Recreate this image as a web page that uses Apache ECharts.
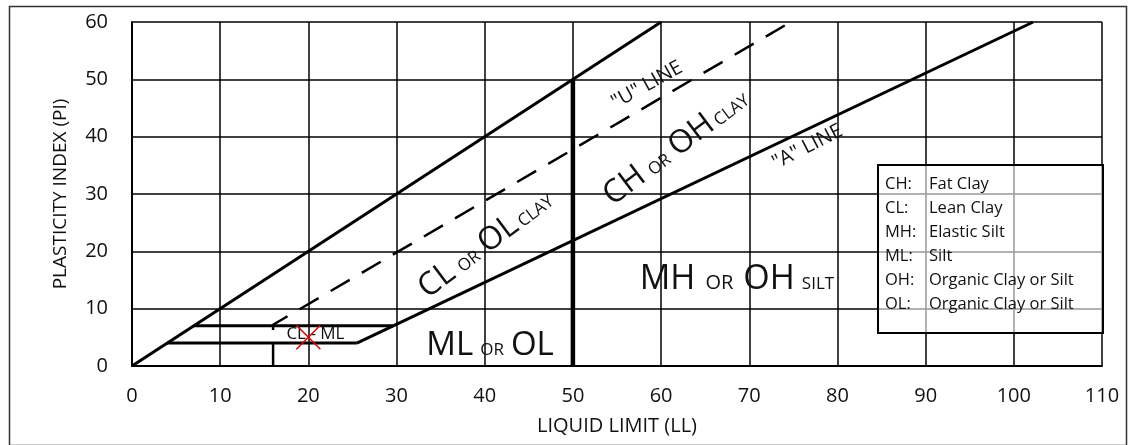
<!DOCTYPE html>
<html>
<head>
<meta charset="utf-8">
<script src="https://cdn.jsdelivr.net/npm/echarts@6/dist/echarts.min.js"></script>
<style>
html, body { margin: 0; padding: 0; background: #fff; }
#chart { width: 1129px; height: 445px; }
</style>
</head>
<body>
<div id="chart"></div>
<script>
const FONT = 'Open Sans';
const INK = '#111';

// chart boundary lines, points are [LL, PI]
const upperLine = [[0, 0], [60, 60]];
const aLine = [[25.5, 4], [102.2, 60]];
const uLine = [[16, 0], [16, 7.2], [74.7, 60]];
const clmlTop = [[7, 7], [29.6, 7]];
const clmlBottom = [[4, 4], [25.5, 4]];
const ll50Line = [[50, 0], [50, 50]];
const samplePoint = [[20, 5]];

// zone annotations
const zoneText = [
    '{d|ML}{s|OR}{d|OL}',
    '{m|MH}{t|OR}{m|OH}{u|SILT}',
    '{b|CL}{s|OR}{b|OL}{c|CLAY}',
    '{b|CH}{s|OR}{b|OH}{c|CLAY}',
    '"U" LINE',
    '"A" LINE',
    'CL - ML'
];
const zonePos = [[40.6, 3.6], [68.6, 15.2], [40.1, 21.3], [61.7, 38.2], [58.4, 49], [76.6, 38.2], [20.8, 5.6]];
const zoneAngle = [0, 0, 37, 37, 29, 27, 0];
const zoneSize = [14, 16, 14, 14, 20, 20, 17];

const legendCodes = ['CH:', 'CL:', 'MH:', 'ML:', 'OH:', 'OL:'];
const legendNames = ['Fat Clay', 'Lean Clay', 'Elastic Silt', 'Silt', 'Organic Clay or Silt', 'Organic Clay or Silt'];

function lineSeries(data, width, type) {
    return {
        type: 'line',
        data: data,
        showSymbol: false,
        silent: true,
        z: 3,
        lineStyle: {color: '#000', width: width, type: type || 'solid', cap: 'butt'}
    };
}

function richStyle(size, pad) {
    return {fontSize: size, color: INK, fontFamily: FONT, verticalAlign: 'bottom',
        textBorderWidth: 0, textBorderColor: 'transparent', padding: pad};
}

const chart = echarts.init(document.getElementById('chart'), null, {renderer: 'canvas'});

const legendItems = [];
legendCodes.forEach((c, i) => {
    legendItems.push({type: 'text', left: 885, top: 176 + i * 24, z: 30,
        style: {text: c, font: '16.5px "' + FONT + '"', fill: INK}});
    legendItems.push({type: 'text', left: 929, top: 176 + i * 24, z: 30,
        style: {text: legendNames[i], font: '16.5px "' + FONT + '"', fill: INK}});
});

const option = {
    animation: false,
    backgroundColor: '#fff',
    textStyle: {fontFamily: FONT},
    grid: {left: 132, right: 27, top: 22, bottom: 79},
    xAxis: {
        type: 'value', min: 0, max: 110, interval: 10,
        name: 'LIQUID LIMIT (LL)', nameLocation: 'middle', nameGap: 50,
        nameTextStyle: {fontSize: 20, color: INK, fontFamily: FONT},
        axisLine: {lineStyle: {color: '#000', width: 2}},
        axisTick: {show: false},
        axisLabel: {fontSize: 20, color: INK, margin: 20, fontFamily: FONT},
        splitLine: {lineStyle: {color: '#000', width: 1.5}}
    },
    yAxis: {
        type: 'value', min: 0, max: 60, interval: 10,
        name: 'PLASTICITY INDEX (PI)', nameLocation: 'middle', nameGap: 62,
        nameTextStyle: {fontSize: 19, color: INK, fontFamily: FONT},
        axisLine: {show: true, lineStyle: {color: '#000', width: 2}},
        axisTick: {show: false},
        axisLabel: {fontSize: 20, color: INK, margin: 24, fontFamily: FONT},
        splitLine: {lineStyle: {color: '#000', width: 1.5}}
    },
    graphic: [
        {type: 'rect', left: 7, top: 4, z: 20,
            shape: {width: 1117, height: 439},
            style: {fill: 'none', stroke: '#333', lineWidth: 1.5}},
        {type: 'rect', left: 877, top: 164, z: 20,
            shape: {width: 225, height: 168},
            style: {fill: 'rgba(255,255,255,0.6)', stroke: '#000', lineWidth: 2}}
    ].concat(legendItems),
    series: [
        lineSeries(upperLine, 3),
        lineSeries(aLine, 3),
        lineSeries(uLine, 2.5, [22, 14]),
        lineSeries(clmlTop, 3),
        lineSeries(clmlBottom, 3),
        lineSeries(ll50Line, 4.5),
        {
            type: 'scatter', data: samplePoint, silent: true, z: 5,
            symbol: 'path://M0,0L10,10M10,0L0,10', symbolSize: 24,
            itemStyle: {color: 'none', borderColor: '#e00000', borderWidth: 1.5, opacity: 1}
        },
        {
            type: 'scatter', silent: true, z: 4, symbolSize: 0,
            itemStyle: {opacity: 1},
            data: zonePos.map((p, i) => ({
                value: p,
                label: {formatter: zoneText[i], rotate: zoneAngle[i], fontSize: zoneSize[i]}
            })),
            label: {
                show: true, position: 'inside', color: INK, fontFamily: FONT,
                textBorderWidth: 0, textBorderColor: 'transparent',
                rich: {
                    b: richStyle(32),
                    d: richStyle(33),
                    s: richStyle(17, [0, 7, 3, 7]),
                    c: richStyle(17, [0, 0, 3, 3]),
                    m: richStyle(34),
                    t: richStyle(20, [0, 10, 3, 10]),
                    u: richStyle(17, [0, 0, 3, 7])
                }
            }
        }
    ]
};

chart.setOption(option);
</script>
</body>
</html>
